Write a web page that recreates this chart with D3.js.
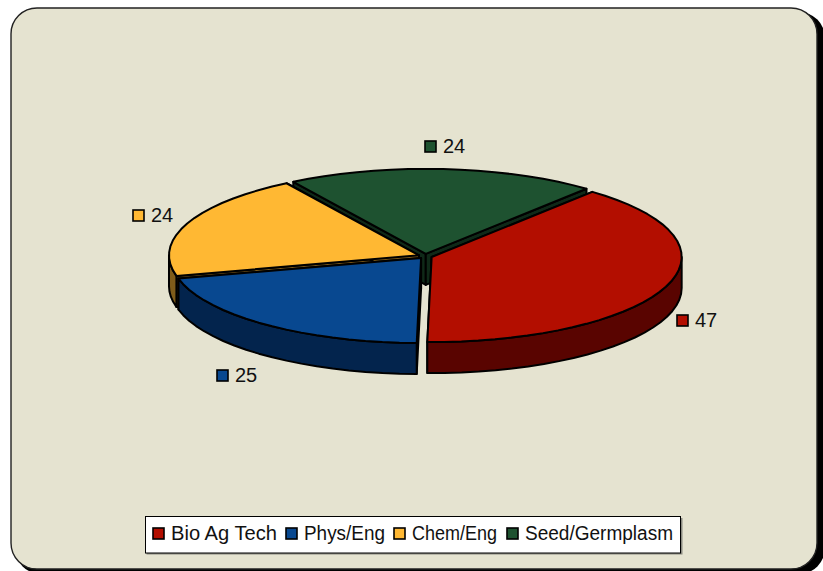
<!DOCTYPE html>
<html>
<head>
<meta charset="utf-8">
<script src="https://cdn.jsdelivr.net/npm/d3@7"></script>
<style>
html, body { margin: 0; padding: 0; background: #fff; overflow: hidden; }
text { font-family: "Liberation Sans", Arial, sans-serif; fill: #111; }
</style>
</head>
<body>
<div id="chart-area"></div>
<script>
// --- Data ---
var categories = ["Bio Ag Tech", "Phys/Eng", "Chem/Eng", "Seed/Germplasm"];
var values = [47, 25, 24, 24];

// --- Styles ---
var topColors = ["#B30E00", "#084890", "#FFB833", "#1E5230"];
var wallColors = ["#590400", "#03244D", "#7F5C1A", "#0F2918"];
// label swatch top-left corners, same order as categories
var labelAnchors = [[677, 315], [217, 370], [133, 210], [425, 141]];
// legend swatch left edges and text widths
var legendLeft = [153, 286, 394, 507];
var legendWidths = [106, 81, 85, 148];

var canvasWidth = 823;
var canvasHeight = 571;
var canvas = d3.select("#chart-area").append("svg")
	.attr("width", canvasWidth)
	.attr("height", canvasHeight)
	.style("display", "block");

// --- Panel ---
canvas.append("rect")
	.attr("x", 15).attr("y", 12)
	.attr("width", 810).attr("height", 562)
	.attr("rx", 26).attr("ry", 26)
	.attr("fill", "#000");
canvas.append("rect")
	.attr("x", 11).attr("y", 8)
	.attr("width", 806).attr("height", 561)
	.attr("rx", 26).attr("ry", 26)
	.attr("fill", "#E5E3D0")
	.attr("stroke", "#222")
	.attr("stroke-width", 1.4);

// --- Pie geometry ---
var cx = 425.3, cy = 256.2, rx = 250, ry = 85, depth = 31, explode = 6.8;
var toRad = Math.PI / 180;

var pie = d3.pie().sort(null).startAngle(40 * toRad).endAngle(400 * toRad);
var slices = pie(values).map((d, i) => {
	var mid = (d.startAngle + d.endAngle) / 2;
	return {
		index: i,
		a0: d.startAngle,
		a1: d.endAngle,
		x: cx + explode * Math.sin(mid),
		y: cy - explode * Math.cos(mid) * ry / rx
	};
});

function rim(s, a, drop) {
	return [s.x + rx * Math.sin(a), s.y - ry * Math.cos(a) + (drop || 0)];
}

function arcPoints(s, a0, a1, drop) {
	var n = Math.max(2, Math.ceil((a1 - a0) / (4 * toRad)));
	return d3.range(n + 1).map((k) => rim(s, a0 + (a1 - a0) * k / n, drop));
}

var line = d3.line();
var pieGroup = canvas.append("g")
	.attr("stroke", "#000")
	.attr("stroke-width", 2)
	.attr("stroke-linejoin", "round");

// back to front: green, yellow, then blue and red
[3, 2, 1, 0].forEach((i) => {
	var s = slices[i];
	var g = pieGroup.append("g");

	// cut faces
	[s.a0, s.a1].forEach((a) => {
		var p = rim(s, a);
		var q = rim(s, a, depth);
		g.append("path")
			.attr("d", line([[s.x, s.y], p, q, [s.x, s.y + depth]]) + "Z")
			.attr("fill", wallColors[i]);
	});

	// outer wall, only the part that faces the viewer
	var w0 = Math.max(s.a0, 90 * toRad);
	var w1 = Math.min(s.a1, 270 * toRad);
	if (w1 > w0) {
		var wall = arcPoints(s, w0, w1, 0).concat(arcPoints(s, w0, w1, depth).reverse());
		g.append("path")
			.attr("d", line(wall) + "Z")
			.attr("fill", wallColors[i]);
	}

	// top
	var top = [[s.x, s.y]].concat(arcPoints(s, s.a0, s.a1, 0));
	g.append("path")
		.attr("d", line(top) + "Z")
		.attr("fill", topColors[i]);
});

// --- Value labels ---
function swatch(parent, x, y, color) {
	parent.append("rect")
		.attr("x", x).attr("y", y)
		.attr("width", 11).attr("height", 11)
		.attr("fill", color)
		.attr("stroke", "#000")
		.attr("stroke-width", 1.6);
}

var labels = canvas.append("g");
values.forEach((v, i) => {
	var a = labelAnchors[i];
	swatch(labels, a[0], a[1], topColors[i]);
	labels.append("text")
		.attr("x", a[0] + 18)
		.attr("y", a[1] + 12)
		.attr("font-size", "20px")
		.text(v);
});

// --- Legend ---
canvas.append("rect")
	.attr("x", 146.5).attr("y", 518)
	.attr("width", 536).attr("height", 36.5)
	.attr("fill", "#8a8a80");
canvas.append("rect")
	.attr("x", 145.5).attr("y", 516.5)
	.attr("width", 535).attr("height", 36.5)
	.attr("fill", "#fff")
	.attr("stroke", "#000")
	.attr("stroke-width", 1);

var legend = canvas.append("g");
categories.forEach((name, i) => {
	swatch(legend, legendLeft[i], 528, topColors[i]);
	legend.append("text")
		.attr("x", legendLeft[i] + 18)
		.attr("y", 539.5)
		.attr("font-size", "20px")
		.attr("textLength", legendWidths[i])
		.attr("lengthAdjust", "spacingAndGlyphs")
		.text(name);
});
</script>
</body>
</html>
